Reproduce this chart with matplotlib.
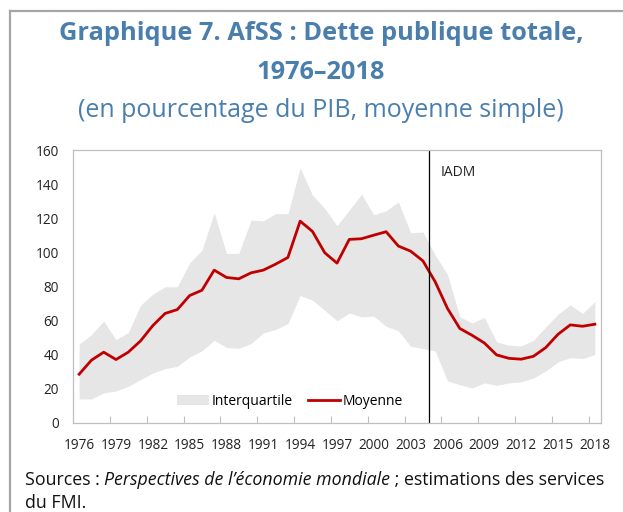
import matplotlib
matplotlib.use("Agg")
import matplotlib.pyplot as plt
from matplotlib.lines import Line2D
from matplotlib.patches import Patch
import numpy as np

plt.rcParams['font.family'] = ['Open Sans', 'DejaVu Sans']

years = list(range(1976, 2019))
moyenne = [28.6, 36.8, 41.5, 37.2, 41.5, 48.1, 57.1, 64.2, 66.5, 74.7,
           77.8, 89.6, 85.3, 84.5, 88.0, 89.6, 93.1, 97.0, 118.3, 112.3,
           99.8, 93.7, 107.6, 108.0, 110.1, 112.1, 103.7, 100.7, 95.0, 82.7,
           67.1, 55.4, 51.4, 46.9, 39.9, 37.9, 37.4, 39.1, 44.2, 52.0,
           57.5, 56.7, 57.9]
q3 = [46.2, 51.8, 59.7, 48.9, 53.0, 69.0, 75.5, 79.8, 79.8, 93.9,
      101.3, 123.2, 99.4, 99.4, 118.9, 118.5, 122.8, 122.6, 149.6, 133.6,
      125.8, 115.6, 124.8, 134.0, 122.0, 124.4, 129.5, 111.5, 111.9, 98.4,
      87.0, 62.2, 58.7, 61.8, 47.5, 45.6, 45.2, 48.5, 56.3, 63.8,
      69.2, 64.2, 71.2]
q1 = [14.1, 14.1, 17.6, 18.8, 21.5, 25.4, 29.3, 31.9, 33.2, 38.7,
      42.3, 48.5, 44.2, 43.8, 46.6, 52.8, 54.8, 58.3, 74.7, 72.0,
      66.1, 59.9, 64.5, 62.2, 62.6, 56.7, 54.0, 45.0, 43.6, 42.2,
      24.6, 22.5, 20.5, 23.5, 22.1, 23.5, 24.1, 26.4, 30.5, 35.8,
      38.3, 37.8, 40.1]
year_labels = [str(y) for y in range(1976, 2019, 3)]
yticks = [0, 20, 40, 60, 80, 100, 120, 140, 160]
break_year = 2004.5

title_color = '#4A7FAD'
W, H = 623, 512
fig = plt.figure(figsize=(W / 100, H / 100), dpi=100)

# outer frame (left and top edges)
fig.add_artist(Line2D([10 / W, 10 / W], [0, 1 - 11 / H], transform=fig.transFigure,
                      color='#A6A6A6', lw=1.6))
fig.add_artist(Line2D([10 / W, 1], [1 - 11 / H, 1 - 11 / H], transform=fig.transFigure,
                      color='#A6A6A6', lw=1.6))

ax = fig.add_axes([73 / W, (H - 423) / H, (601 - 73) / W, (423 - 150) / H])
x = np.arange(len(years))
ax.fill_between(x, q1, q3, color='#E6E6E6', lw=0, label='Interquartile')
ax.plot(x, moyenne, color='#C00000', lw=2.0, label='Moyenne')
bx = years.index(int(break_year)) + (break_year - int(break_year))
ax.axvline(bx, color='black', lw=0.9)
ax.text(bx + 0.9, 146.8, 'IADM', fontsize=10, color='#222222', va='center', ha='left')

ax.set_xlim(-0.5, len(years) - 0.5)
ax.set_ylim(0, 160)
ax.set_yticks(yticks)
ax.set_yticklabels([str(v) for v in yticks])
lab_pos = [years.index(int(s)) for s in year_labels]
ax.set_xticks(lab_pos)
ax.set_xticklabels(year_labels)
ax.set_xticks(np.arange(2.5, len(years) - 0.5, 3), minor=True)
ax.tick_params(axis='x', which='major', length=0, labelsize=9.8, pad=11, colors='#222222')
ax.tick_params(axis='x', which='minor', length=5, direction='in', color='#BFBFBF', width=0.8)
ax.tick_params(axis='y', length=0, labelsize=9.8, pad=10, colors='#222222')
for s in ax.spines.values():
    s.set_color('#BFBFBF')
    s.set_linewidth(0.9)

handles = [Patch(facecolor='#E6E6E6', edgecolor='none', label='Interquartile'),
           Line2D([], [], color='#C00000', lw=2.0, label='Moyenne')]
ax.legend(handles=handles, loc='center', bbox_to_anchor=(0.411, 0.079), ncol=2,
          frameon=False, fontsize=10, handlelength=2.3, handletextpad=0.2,
          columnspacing=1.1, handleheight=0.65)

fig.text(321 / W, 1 - 40 / H, 'Graphique 7. AfSS : Dette publique totale,', ha='center',
         va='baseline', fontsize=18.3, fontweight='bold', color=title_color)
fig.text(321 / W, 1 - 79 / H, '1976–2018', ha='center', va='baseline', fontsize=18.3,
         fontweight='bold', color=title_color)
fig.text(321 / W, 1 - 117 / H, '(en pourcentage du PIB, moyenne simple)', ha='center',
         va='baseline', fontsize=18, color=title_color)

src_fs = 12.8
t1 = fig.text(25 / W, 1 - 485 / H, 'Sources : ', ha='left', va='baseline', fontsize=src_fs,
              color='#111111')
t2 = fig.text(0, 0, "Perspectives de l’économie mondiale", fontsize=src_fs, style='italic',
              color='#111111', ha='left', va='baseline')
fig.canvas.draw()
r = fig.canvas.get_renderer()
bb = t1.get_window_extent(r)
t2.set_position((bb.x1 / W, 1 - 485 / H))
bb2 = t2.get_window_extent(r)
fig.text(bb2.x1 / W, 1 - 485 / H, ' ; estimations des services', ha='left', va='baseline',
         fontsize=src_fs, color='#111111')
fig.text(25 / W, 1 - 508 / H, 'du FMI.', ha='left', va='baseline', fontsize=src_fs,
         color='#111111')

fig.savefig('out.png', dpi=100)
